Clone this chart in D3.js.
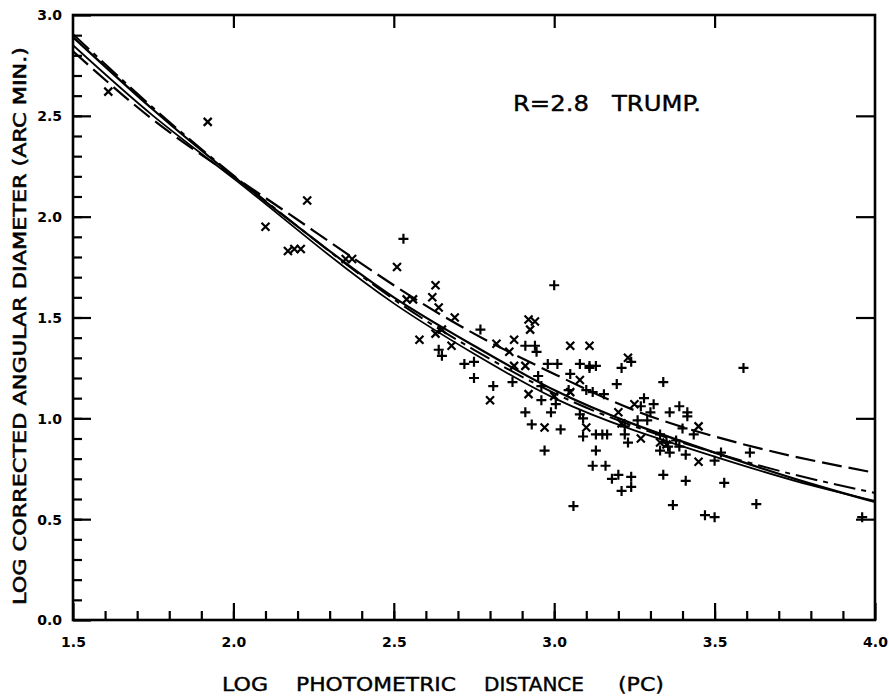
<!DOCTYPE html>
<html><head><meta charset="utf-8">
<script src="https://cdn.jsdelivr.net/npm/d3@7/dist/d3.min.js"></script>
<style>body{margin:0;background:#fff}svg{display:block}</style>
</head><body>
<svg id="chart" width="889" height="699"></svg>
<script>
// ---- data ----
const curveX   = [1.5, 1.75, 2.0, 2.25, 2.5, 2.75, 3.0, 3.25, 3.5, 3.75, 4.0];
const solidA   = [2.89, 2.53, 2.20, 1.89, 1.60, 1.36, 1.14, 0.97, 0.83, 0.70, 0.585];
const solidB   = [2.85, 2.50, 2.19, 1.87, 1.57, 1.32, 1.10, 0.94, 0.81, 0.69, 0.59];
const longDash = [2.82, 2.48, 2.20, 1.93, 1.66, 1.42, 1.22, 1.04, 0.91, 0.81, 0.73];
const dashDot  = [2.905, 2.54, 2.205, 1.89, 1.59, 1.34, 1.125, 0.96, 0.83, 0.72, 0.63];

const crossX = [1.61,1.92,2.10,2.23,2.17,2.19,2.21,2.35,2.37,2.51,2.63,2.62,2.56,2.54,2.64,2.69,2.65,2.63,2.58,2.68,
  2.82,2.875,2.86,2.92,2.94,2.925,3.05,3.11,3.23,2.80,2.875,2.91,3.08,3.05,2.92,3.20,3.00,3.10,2.97,3.27,
  3.21,3.25,3.45,3.33,3.35,3.45];
const crossY = [2.62,2.47,1.95,2.08,1.83,1.84,1.84,1.79,1.79,1.75,1.66,1.60,1.59,1.59,1.55,1.50,1.44,1.42,1.39,1.36,
  1.37,1.39,1.33,1.49,1.48,1.44,1.36,1.36,1.30,1.09,1.26,1.26,1.19,1.13,1.12,1.03,1.11,0.955,0.955,0.90,
  0.975,1.07,0.96,0.88,0.87,0.785];

const plusX = [2.53,3.00,2.77,2.64,2.65,2.72,2.75,2.75,2.91,2.94,2.945,2.81,2.87,2.98,3.01,3.05,3.08,3.11,3.13,3.195,
  3.21,3.24,3.10,3.12,3.155,2.95,2.96,2.96,3.005,2.99,2.91,3.08,3.09,3.11,3.045,2.93,3.02,3.09,3.13,3.15,
  3.165,2.97,3.13,3.12,3.16,3.22,3.23,3.28,3.27,3.26,3.29,3.22,3.20,3.18,3.21,3.06,3.34,3.31,3.36,3.39,
  3.415,3.415,3.30,3.33,3.35,3.355,3.38,3.39,3.36,3.33,3.41,3.435,3.50,3.52,3.61,3.24,3.34,3.59,3.40,3.41,
  3.53,3.37,3.47,3.50,3.63,3.96,3.24];
const plusY = [1.89,1.66,1.44,1.34,1.31,1.27,1.28,1.20,1.36,1.36,1.33,1.16,1.18,1.27,1.27,1.22,1.27,1.26,1.26,1.17,
  1.25,1.28,1.14,1.13,1.12,1.21,1.16,1.09,1.07,1.03,1.03,1.02,1.00,1.25,1.14,0.97,0.945,0.91,0.92,0.92,
  0.92,0.84,0.84,0.765,0.765,0.92,0.88,1.10,1.06,0.99,0.99,0.96,0.72,0.70,0.64,0.565,1.18,1.07,1.03,1.06,
  1.03,1.01,1.03,0.92,0.88,0.86,0.89,0.86,0.83,0.84,0.82,0.92,0.79,0.83,0.83,0.71,0.72,1.25,0.95,0.69,
  0.68,0.57,0.52,0.51,0.575,0.51,0.66];

const xMajor = [1.5, 2.0, 2.5, 3.0, 3.5, 4.0];
const yMajor = [0.0, 0.5, 1.0, 1.5, 2.0, 2.5, 3.0];
const xMinor = d3.range(16, 40).map(v => v / 10);
const yMinor = d3.range(1, 30).map(v => v / 10);

// ---- chart ----
const svg = d3.select("#chart");
const x = d3.scaleLinear().domain([1.5, 4.0]).range([73, 875]);
const y = d3.scaleLinear().domain([0, 3.0]).range([620, 15]);
const font = "'DejaVu Sans', 'Liberation Sans', sans-serif";

function styleAxis(g) {
  g.select(".domain").remove();
  g.selectAll(".tick line").attr("stroke", "#000").attr("stroke-width", 2.2);
}

// minor ticks
svg.append("g").attr("transform", `translate(0,${y(0)})`)
  .call(d3.axisBottom(x).tickValues(xMinor).tickSize(-9).tickFormat("")).call(styleAxis);
svg.append("g").attr("transform", `translate(${x(1.5)},0)`)
  .call(d3.axisLeft(y).tickValues(yMinor).tickSize(-9).tickFormat("")).call(styleAxis);
// major ticks with labels
const xa = svg.append("g").attr("transform", `translate(0,${y(0)})`)
  .call(d3.axisBottom(x).tickValues(xMajor).tickSize(-17).tickPadding(17).tickFormat(d3.format(".1f"))).call(styleAxis);
const ya = svg.append("g").attr("transform", `translate(${x(1.5)},0)`)
  .call(d3.axisLeft(y).tickValues(yMajor).tickSize(-18).tickPadding(11).tickFormat(d3.format(".1f"))).call(styleAxis);
[xa, ya].forEach(g => g.selectAll("text").attr("font-family", font).attr("font-size", 14)
  .attr("fill", "#000").attr("font-weight", "bold"));
ya.selectAll("text").attr("dy", "0.35em");
// top & right major ticks
svg.append("g").attr("transform", `translate(0,${y(3.0)})`)
  .call(d3.axisTop(x).tickValues(xMajor.slice(1, -1)).tickSize(-13).tickFormat("")).call(styleAxis);
svg.append("g").attr("transform", `translate(${x(4.0)},0)`)
  .call(d3.axisRight(y).tickValues(yMajor.slice(1, -1)).tickSize(-19).tickFormat("")).call(styleAxis);

// frame
svg.append("rect").attr("x", x(1.5)).attr("y", y(3.0))
  .attr("width", x(4.0) - x(1.5)).attr("height", y(0) - y(3.0))
  .attr("fill", "none").attr("stroke", "#000").attr("stroke-width", 2.6);

// curves
const line = d3.line().x((d, i) => x(curveX[i])).y(d => y(d)).curve(d3.curveNatural);
const curves = [
  {v: solidA, dash: null, w: 2.2},
  {v: solidB, dash: null, w: 1.8},
  {v: longDash, dash: "20,7", w: 2.2},
  {v: dashDot, dash: "22,6,5,6", w: 2.0}
];
svg.append("clipPath").attr("id", "pc").append("rect")
  .attr("x", x(1.5)).attr("y", y(3.0)).attr("width", x(4.0) - x(1.5)).attr("height", y(0) - y(3.0));
curves.forEach(c => {
  svg.append("path").attr("d", line(c.v)).attr("fill", "none").attr("stroke", "#000")
    .attr("stroke-width", c.w).attr("stroke-dasharray", c.dash).attr("clip-path", "url(#pc)");
});

// markers
const pts = svg.append("g").attr("stroke", "#000").attr("fill", "none").attr("stroke-width", 2.2);
crossX.forEach((cx, i) => {
  const px = x(cx), py = y(crossY[i]), s = 4;
  pts.append("path").attr("d", `M${px - s},${py - s}L${px + s},${py + s}M${px - s},${py + s}L${px + s},${py - s}`);
});
plusX.forEach((cx, i) => {
  const px = x(cx), py = y(plusY[i]), s = 5;
  pts.append("path").attr("d", `M${px - s},${py}L${px + s},${py}M${px},${py - s}L${px},${py + s}`);
});

// annotation
svg.append("text").attr("x", 513).attr("y", 111).attr("font-family", font).attr("font-size", 21)
  .attr("stroke", "#000").attr("stroke-width", 0.4).style("white-space", "pre")
  .attr("textLength", 188).attr("lengthAdjust", "spacingAndGlyphs").text("R=2.8   TRUMP.");

// axis titles
svg.append("text").attr("transform", "translate(26,326) rotate(-90)").attr("text-anchor", "middle")
  .attr("font-family", font).attr("font-size", 17).attr("stroke", "#000").attr("stroke-width", 0.5)
  .attr("textLength", 558).attr("lengthAdjust", "spacingAndGlyphs")
  .text("LOG CORRECTED ANGULAR DIAMETER (ARC MIN.)");
const words = [["LOG", 222, 46], ["PHOTOMETRIC", 296, 160], ["DISTANCE", 484, 100], ["(PC)", 618, 46]];
words.forEach(([t, wx, wl]) => {
  svg.append("text").attr("x", wx).attr("y", 691).attr("font-family", font).attr("font-size", 19)
    .attr("stroke", "#000").attr("stroke-width", 0.4)
    .attr("textLength", wl).attr("lengthAdjust", "spacingAndGlyphs").text(t);
});
</script>
</body></html>
